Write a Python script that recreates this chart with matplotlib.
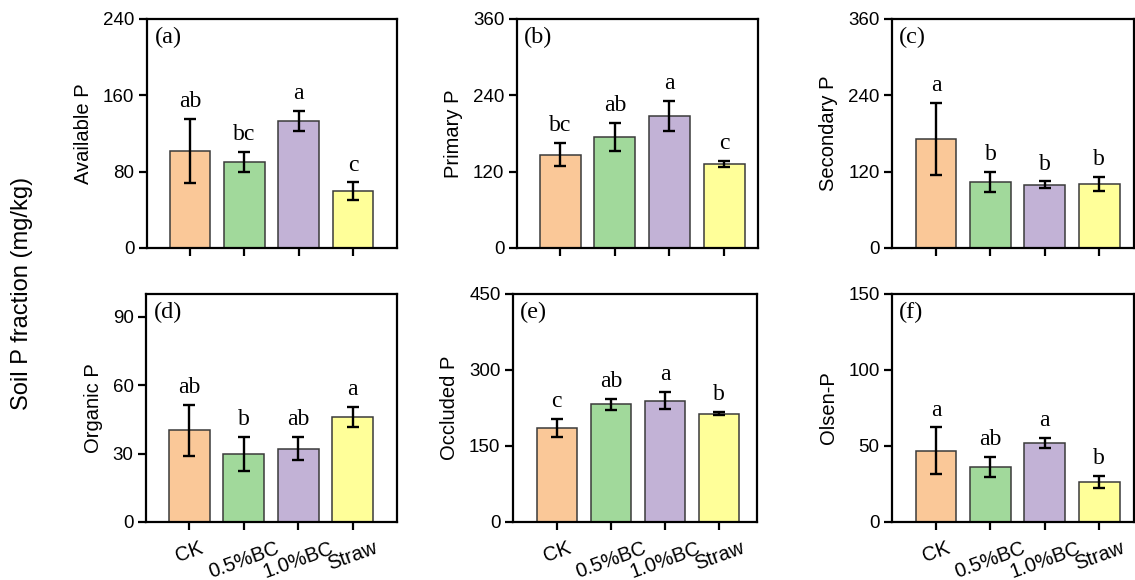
import numpy as np
from matplotlib import pyplot as plt

treatments = ['CK', '0.5%BC', '1.0%BC', 'Straw']
colors = ['#FAC898', '#A1D99B', '#C2B2D6', '#FFFF99']

available_p = [101.3, 90.0, 133.5, 59.6]
available_p_err = [33.6, 10.2, 10.5, 9.1]
available_p_sig = ['ab', 'bc', 'a', 'c']

primary_p = [146.6, 175.0, 207.6, 131.9]
primary_p_err = [18.2, 22.0, 23.0, 4.5]
primary_p_sig = ['bc', 'ab', 'a', 'c']

secondary_p = [171.3, 103.5, 99.3, 100.9]
secondary_p_err = [57.3, 16.0, 5.3, 11.3]
secondary_p_sig = ['a', 'b', 'b', 'b']

organic_p = [40.3, 29.8, 32.2, 46.1]
organic_p_err = [11.2, 7.3, 5.1, 4.4]
organic_p_sig = ['ab', 'b', 'ab', 'a']

occluded_p = [186.4, 232.5, 239.8, 214.0]
occluded_p_err = [17.8, 11.2, 16.2, 3.3]
occluded_p_sig = ['c', 'ab', 'a', 'b']

olsen_p = [46.8, 36.2, 52.0, 26.1]
olsen_p_err = [15.4, 6.3, 3.0, 4.0]
olsen_p_sig = ['a', 'ab', 'a', 'b']

SANS = 'Liberation Sans'
SERIF = 'Liberation Serif'
W, H = 1135, 580


def rect(left, right, top, bottom):
    """Axes rectangle from pixel edges."""
    return [left / W, 1 - bottom / H, (right - left) / W, (bottom - top) / H]


def panel(fig, box, xlim, ylim, vals, errs, sig, ylabel, yticks, tag, show_x):
    ax = fig.add_axes(rect(*box))
    x = np.arange(len(treatments))
    ax.bar(x, vals, width=0.75, color=colors, edgecolor='#3a3a3a', linewidth=1.1, zorder=2)
    ax.errorbar(x, vals, yerr=errs, fmt='none', ecolor='black', elinewidth=1.7,
                capsize=4.5, capthick=1.7, zorder=3)
    for xi, v, e, s in zip(x, vals, errs, sig):
        ax.annotate(s, (xi, v + e), xytext=(0, 5), textcoords='offset points',
                    ha='center', va='bottom', fontsize=17, family=SERIF)
    ax.set_xlim(*xlim)
    ax.set_ylim(*ylim)
    ax.set_yticks(yticks)
    ax.set_xticks(x)
    if show_x:
        ax.set_xticklabels(treatments, rotation=20, ha='center', fontsize=14.5, family=SANS)
    else:
        ax.set_xticklabels([])
    for lab in ax.get_yticklabels():
        lab.set_family(SANS)
        lab.set_fontsize(13.5)
    ax.set_ylabel(ylabel, fontsize=14.5, family=SANS, labelpad=7)
    for sp in ax.spines.values():
        sp.set_linewidth(1.6)
    ax.tick_params(direction='out', length=6, width=1.6, pad=3)
    ax.tick_params(axis='x', pad=6)
    ax.text(0.03, 0.965, tag, transform=ax.transAxes, ha='left', va='top',
            fontsize=17.5, family=SERIF)
    return ax


fig = plt.figure(figsize=(W / 100, H / 100), dpi=100)

panel(fig, (147, 397, 19, 248), (-0.79, 3.81), (0, 240), available_p, available_p_err,
      available_p_sig, 'Available P', [0, 80, 160, 240], '(a)', False)
panel(fig, (517, 758, 19, 248), (-0.79, 3.62), (0, 360), primary_p, primary_p_err,
      primary_p_sig, 'Primary P', [0, 120, 240, 360], '(b)', False)
panel(fig, (892, 1134, 19, 248), (-0.81, 3.64), (0, 360), secondary_p, secondary_p_err,
      secondary_p_sig, 'Secondary P', [0, 120, 240, 360], '(c)', False)
panel(fig, (146, 397, 294, 522), (-0.79, 3.81), (0, 100), organic_p, organic_p_err,
      organic_p_sig, 'Organic P', [0, 30, 60, 90], '(d)', True)
panel(fig, (513, 757, 294, 522), (-0.81, 3.70), (0, 450), occluded_p, occluded_p_err,
      occluded_p_sig, 'Occluded P', [0, 150, 300, 450], '(e)', True)
panel(fig, (892, 1134, 294, 522), (-0.81, 3.64), (0, 150), olsen_p, olsen_p_err,
      olsen_p_sig, 'Olsen-P', [0, 50, 100, 150], '(f)', True)

fig.text(22 / W, 1 - 293 / H, 'Soil P fraction (mg/kg)', rotation=90,
         ha='center', va='center', fontsize=17, family=SANS)

fig.savefig('out.png', dpi=100)
